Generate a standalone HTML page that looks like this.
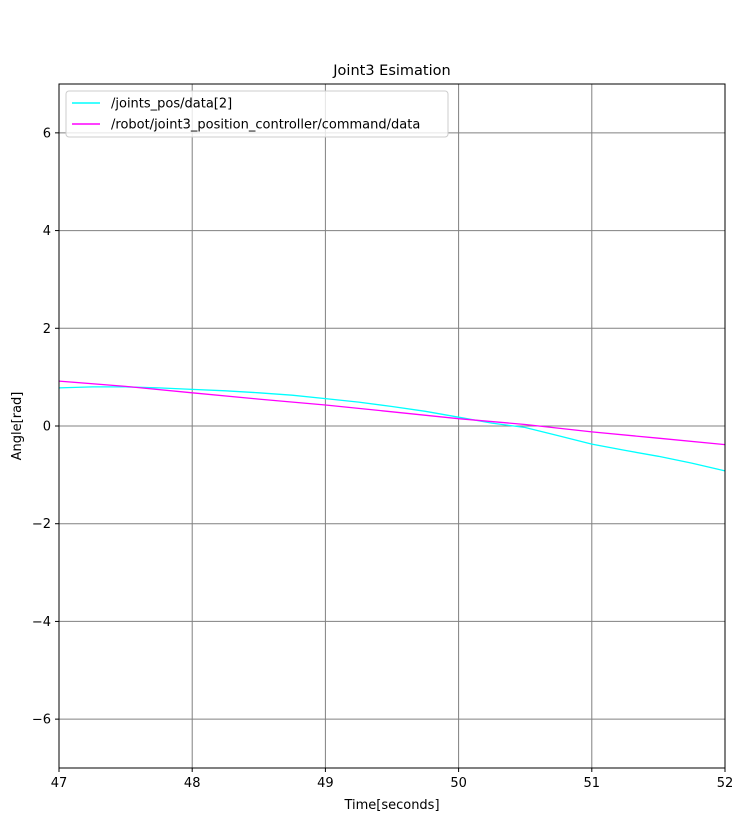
<!DOCTYPE html>
<html><head><meta charset="utf-8"><style>
body{margin:0;background:#fff;font-family:"Liberation Sans","DejaVu Sans",sans-serif;}
svg text{font-family:"DejaVu Sans","Liberation Sans",sans-serif;}
</style></head><body>
<svg id="chart" width="740" height="835">
<rect width="740" height="835" fill="#fff"/>
<text x="392" y="75" font-size="14.5" text-anchor="middle">Joint3 Esimation</text>
<g id="grid"></g>
<g id="series"></g>
<rect x="59" y="84" width="666" height="684" fill="none" stroke="#000" stroke-width="1"/>
<g id="ticks"></g>
<text x="392" y="809" font-size="13" text-anchor="middle">Time[seconds]</text>
<text transform="translate(21,426) rotate(-90)" font-size="13" text-anchor="middle">Angle[rad]</text>
<g>
<rect x="66" y="91" width="382" height="46" rx="3" fill="#fff" fill-opacity="0.8" stroke="#ccc"/>
<line x1="72" y1="103" x2="100" y2="103" stroke="#00ffff" stroke-width="1.5"/>
<text x="111" y="107.5" font-size="13">/joints_pos/data[2]</text>
<line x1="72" y1="124" x2="100" y2="124" stroke="#ff00ff" stroke-width="1.5"/>
<text x="111" y="128.5" font-size="13">/robot/joint3_position_controller/command/data</text>
</g>
</svg>
<script>
const xTicks=[47,48,49,50,51,52];
const yTicks=[-6,-4,-2,0,2,4,6];
const posT=[47,47.25,47.5,47.75,48,48.25,48.5,48.75,49,49.25,49.5,49.75,50,50.25,50.5,50.75,51,51.25,51.5,51.75,52];
const posV=[0.78,0.8,0.8,0.78,0.75,0.72,0.68,0.63,0.56,0.49,0.4,0.3,0.18,0.06,-0.03,-0.2,-0.37,-0.5,-0.62,-0.76,-0.92];
const cmdT=[47,47.5,48,48.5,49,49.5,50,50.5,51,51.5,52];
const cmdV=[0.92,0.81,0.68,0.55,0.43,0.29,0.15,0.03,-0.12,-0.25,-0.38];
const X0=47,X1=52,Y0=-7,Y1=7,L=59,R=725,T=84,B=768;
const sx=v=>L+(v-X0)/(X1-X0)*(R-L);
const sy=v=>B-(v-Y0)/(Y1-Y0)*(B-T);
const NS="http://www.w3.org/2000/svg";
const grid=document.getElementById('grid'),ticks=document.getElementById('ticks'),ser=document.getElementById('series');
function mk(tag,a,p){const e=document.createElementNS(NS,tag);for(const k in a)e.setAttribute(k,a[k]);p.appendChild(e);return e;}
xTicks.forEach(t=>{const x=sx(t);
 const g=mk('line',{x1:x,x2:x,y1:T,y2:B,stroke:'#808080','stroke-width':1},grid);
 
 
 const k=mk('line',{x1:x,x2:x,y1:B,y2:B+4,stroke:'#000'},ticks);
 
 
 const tx=mk('text',{x:x,y:B+19,'font-size':13,'text-anchor':'middle'},ticks);tx.textContent=t;
 
 
});
yTicks.forEach(t=>{const y=sy(t);
 const g=mk('line',{x1:L,x2:R,y1:y,y2:y,stroke:'#808080','stroke-width':1},grid);
 
 
 const k=mk('line',{x1:L-4,x2:L,y1:y,y2:y,stroke:'#000'},ticks);
 
 
 const tx=mk('text',{x:L-8,y:y+4.5,'font-size':13,'text-anchor':'end'},ticks);tx.textContent=(t<0?'\u2212'+(-t):t);
 
 
});
function line(ts,vs,c,name){const d=ts.map((t,i)=>(i?'L':'M')+sx(t).toFixed(1)+','+sy(vs[i]).toFixed(1)).join('');
 const p=mk('path',{d:d,fill:'none',stroke:c,'stroke-width':1.3},ser);
 
 }
line(posT,posV,'#00ffff','joints-pos-line');
line(cmdT,cmdV,'#ff00ff','command-line');
</script>
</body></html>
